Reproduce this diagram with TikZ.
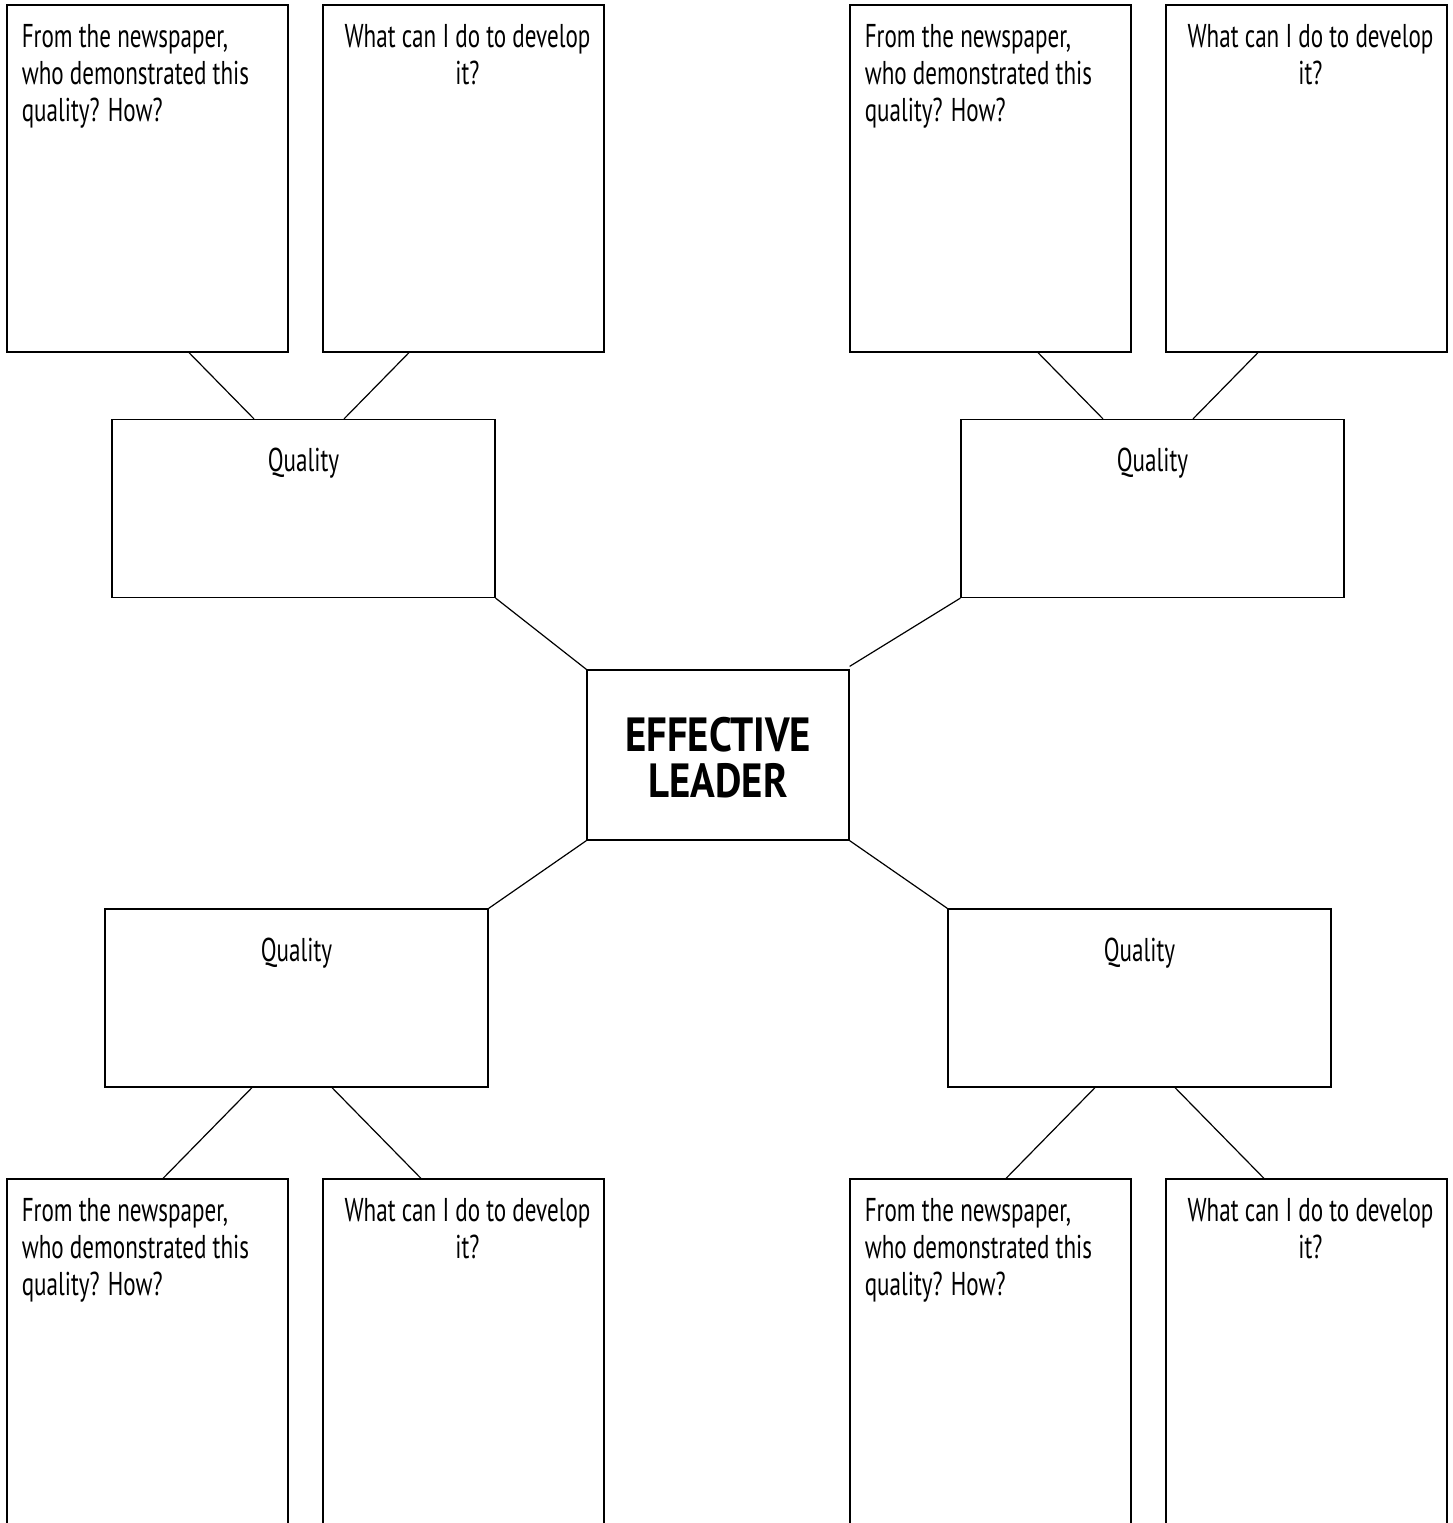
\documentclass[tikz,border=0pt]{standalone}
\usepackage{fontspec}
\setmainfont[FakeStretch=0.7, BoldFeatures={FakeStretch=0.85}]{PT Sans}

\tikzset{
  tallbox/.style={draw, line width=0.6pt, minimum width=140.5pt, minimum height=173.5pt, inner sep=0pt},
  openbox/.style={tallbox, minimum height=180.5pt},
  qualbox/.style={draw, line width=0.6pt, minimum width=191.5pt, minimum height=89pt, inner sep=0pt},
  leaderbox/.style={draw, line width=0.6pt, minimum width=131pt, minimum height=85pt, inner sep=0pt},
  asktext/.style={inner sep=0pt, anchor=north west, align=left, font=\fontsize{16.5}{18.5}\selectfont},
  devtext/.style={inner sep=0pt, anchor=north, align=center, font=\fontsize{16.5}{18.5}\selectfont},
  qualtext/.style={inner sep=0pt, anchor=north, font=\fontsize{16.5}{18.5}\selectfont},
  link/.style={line width=0.6pt}
}

\begin{document}
\begin{tikzpicture}[x=0.5pt, y=-0.5pt]

    \useasboundingbox (0,0) rectangle (1453,1523);
    \clip (0,0) rectangle (1453,1523); % bottom boxes run off the page

    % Top left
    \node[tallbox] (newsTL) at (147.5,178.5) {};
    \node[tallbox] (devTL) at (463.5,178.5) {};
    \node[qualbox] (qualTL) at (303.5,508.5) {};

    % Top right
    \node[tallbox] (newsTR) at (990.5,178.5) {};
    \node[tallbox] (devTR) at (1306.5,178.5) {};
    \node[qualbox] (qualTR) at (1152.5,508.5) {};

    % Centre
    \node[leaderbox] (leader) at (718,755) {};

    % Bottom left
    \node[qualbox] (qualBL) at (296.5,998) {};
    \node[openbox] (newsBL) at (147.5,1359.5) {};
    \node[openbox] (devBL) at (463.5,1359.5) {};

    % Bottom right
    \node[qualbox] (qualBR) at (1139.5,998) {};
    \node[openbox] (newsBR) at (990.5,1359.5) {};
    \node[openbox] (devBR) at (1306.5,1359.5) {};

    % Texts
    \node[asktext] (askTL) at ([shift={(15,20)}]newsTL.north west) {From the newspaper,\\who demonstrated this\\quality? How?};
    \node[devtext] (howTL) at ([shift={(4,20)}]devTL.north) {What can I do to develop\\it?};
    \node[asktext] (askTR) at ([shift={(15,20)}]newsTR.north west) {From the newspaper,\\who demonstrated this\\quality? How?};
    \node[devtext] (howTR) at ([shift={(4,20)}]devTR.north) {What can I do to develop\\it?};
    \node[asktext] (askBL) at ([shift={(15,20)}]newsBL.north west) {From the newspaper,\\who demonstrated this\\quality? How?};
    \node[devtext] (howBL) at ([shift={(4,20)}]devBL.north) {What can I do to develop\\it?};
    \node[asktext] (askBR) at ([shift={(15,20)}]newsBR.north west) {From the newspaper,\\who demonstrated this\\quality? How?};
    \node[devtext] (howBR) at ([shift={(4,20)}]devBR.north) {What can I do to develop\\it?};

    \node[qualtext] (nameTL) at ([shift={(0,29)}]qualTL.north) {Quality};
    \node[qualtext] (nameTR) at ([shift={(0,29)}]qualTR.north) {Quality};
    \node[qualtext] (nameBL) at ([shift={(0,29)}]qualBL.north) {Quality};
    \node[qualtext] (nameBR) at ([shift={(0,29)}]qualBR.north) {Quality};

    \node[inner sep=0pt, align=center, font=\fontsize{24}{23}\selectfont\bfseries] (title) at ([shift={(0,3)}]leader.center) {EFFECTIVE\\LEADER};

    % Top left links
    \draw[link] ([shift={(41.5,0)}]newsTL.south) -- ([shift={(-49.5,0)}]qualTL.north);
    \draw[link] ([shift={(-54.5,0)}]devTL.south) -- ([shift={(40.5,0)}]qualTL.north);

    % Top right links
    \draw[link] ([shift={(47.5,0)}]newsTR.south) -- ([shift={(-49.5,0)}]qualTR.north);
    \draw[link] ([shift={(-48.5,0)}]devTR.south) -- ([shift={(40.5,0)}]qualTR.north);

    % Links to the centre
    \draw[link] (qualTL.south east) -- (leader.north west);
    \draw[link] (qualTR.south west) -- ([shift={(0,-3)}]leader.north east);
    \draw[link] (qualBL.north east) -- (leader.south west);
    \draw[link] (leader.south east) -- (qualBR.north west);

    % Bottom left links
    \draw[link] ([shift={(-44.5,0)}]qualBL.south) -- ([shift={(15.5,0)}]newsBL.north);
    \draw[link] ([shift={(35.5,0)}]qualBL.south) -- ([shift={(-42.5,0)}]devBL.north);

    % Bottom right links
    \draw[link] ([shift={(-44.5,0)}]qualBR.south) -- ([shift={(15.5,0)}]newsBR.north);
    \draw[link] ([shift={(35.5,0)}]qualBR.south) -- ([shift={(-42.5,0)}]devBR.north);

\end{tikzpicture}
\end{document}
